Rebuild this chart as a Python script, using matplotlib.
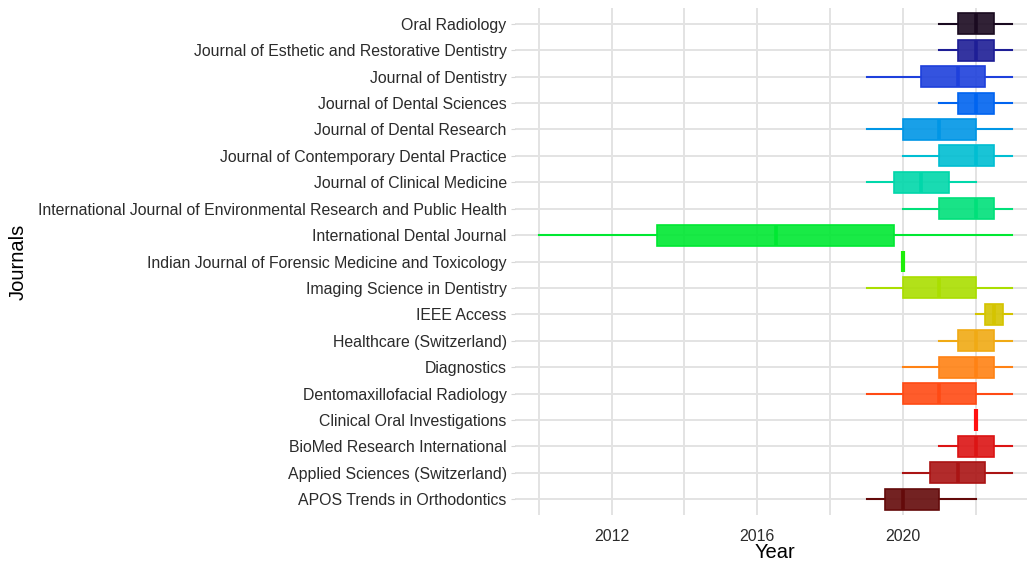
import matplotlib
matplotlib.use("Agg")
import matplotlib.pyplot as plt
import matplotlib.colors as mcolors

plt.rcParams["font.family"] = ["Liberation Sans", "DejaVu Sans"]

# bottom -> top order
journals = [
    "APOS Trends in Orthodontics",
    "Applied Sciences (Switzerland)",
    "BioMed Research International",
    "Clinical Oral Investigations",
    "Dentomaxillofacial Radiology",
    "Diagnostics",
    "Healthcare (Switzerland)",
    "IEEE Access",
    "Imaging Science in Dentistry",
    "Indian Journal of Forensic Medicine and Toxicology",
    "International Dental Journal",
    "International Journal of Environmental Research and Public Health",
    "Journal of Clinical Medicine",
    "Journal of Contemporary Dental Practice",
    "Journal of Dental Research",
    "Journal of Dental Sciences",
    "Journal of Dentistry",
    "Journal of Esthetic and Restorative Dentistry",
    "Oral Radiology",
]
whis_lo = [2019, 2020, 2021, 2022, 2019, 2020, 2021, 2022, 2019, 2020,
           2010, 2020, 2019, 2020, 2019, 2021, 2019, 2021, 2021]
q1 = [2019.5, 2020.75, 2021.5, 2022, 2020, 2021, 2021.5, 2022.25, 2020, 2020,
      2013.25, 2021, 2019.75, 2021, 2020, 2021.5, 2020.5, 2021.5, 2021.5]
med = [2020, 2021.5, 2022, 2022, 2021, 2022, 2022, 2022.5, 2021, 2020,
       2016.5, 2022, 2020.5, 2022, 2021, 2022, 2021.5, 2022, 2022]
q3 = [2021, 2022.25, 2022.5, 2022, 2022, 2022.5, 2022.5, 2022.75, 2022, 2020,
      2019.75, 2022.5, 2021.25, 2022.5, 2022, 2022.5, 2022.25, 2022.5, 2022.5]
whis_hi = [2022, 2023, 2023, 2022, 2023, 2023, 2023, 2023, 2023, 2020,
           2023, 2023, 2022, 2023, 2023, 2023, 2023, 2023, 2023]

colors = ["#640a0a", "#aa1414", "#dc1414", "#ff1010", "#ff4a14", "#ff8214",
          "#f0aa14", "#d4c400", "#aade00", "#1eee0a", "#00e832", "#00e07a",
          "#00d7aa", "#00bed2", "#0096e6", "#0064f0", "#1e40dc", "#1e1e96",
          "#1a0a20"]

fig = plt.figure(figsize=(10.27, 5.63), dpi=100)
ax = fig.add_axes([515 / 1027, 1 - 515 / 563, 521 / 1027, 507 / 563])

stats = [dict(whislo=a, q1=b, med=c, q3=d, whishi=e, fliers=[], label=j)
         for a, b, c, d, e, j in zip(whis_lo, q1, med, q3, whis_hi, journals)]
pos = list(range(1, len(journals) + 1))
res = ax.bxp(stats, positions=pos, vert=False, widths=0.8, patch_artist=True,
             showcaps=False, showfliers=False, zorder=3)
for i, c in enumerate(colors):
    box = res["boxes"][i]
    box.set_facecolor(mcolors.to_rgba(c, 0.9))
    box.set_edgecolor(c)
    box.set_linewidth(1.2)
    res["medians"][i].set_color(c)
    res["medians"][i].set_linewidth(2.6)
    for w in res["whiskers"][2 * i:2 * i + 2]:
        w.set_color(c)
        w.set_linewidth(1.5)
res["medians"][9].set_linewidth(3)
res["medians"][3].set_linewidth(3)

ax.set_xlim(2009.35, 2023.65)
ax.set_ylim(0.4, len(journals) + 0.6)
ax.set_xticks([2012, 2016, 2020])
ax.set_xticks([2010, 2014, 2018, 2022], minor=True)
ax.set_yticks(pos)
ax.set_yticklabels(journals)
ax.grid(True, which="both", axis="x", color="#e3e3e3", linewidth=1.4, zorder=0)
ax.grid(True, which="major", axis="y", color="#e3e3e3", linewidth=1.4, zorder=0)
ax.set_axisbelow(True)
for sp in ax.spines.values():
    sp.set_visible(False)
ax.tick_params(axis="y", length=3, color="#d8d8d8", labelsize=11.4,
               labelcolor="#2b2b2b", pad=3)
ax.tick_params(axis="x", which="both", length=0, labelsize=11.4,
               labelcolor="#2b2b2b", pad=10)
fig.text(775 / 1027, 1 - 552 / 563, "Year", fontsize=14.5,
         ha="center", va="center")
fig.text(18 / 1027, 1 - 262 / 563, "Journals", rotation=90, fontsize=14.5,
         ha="center", va="center")

fig.savefig("out.png", dpi=100, facecolor="white")
